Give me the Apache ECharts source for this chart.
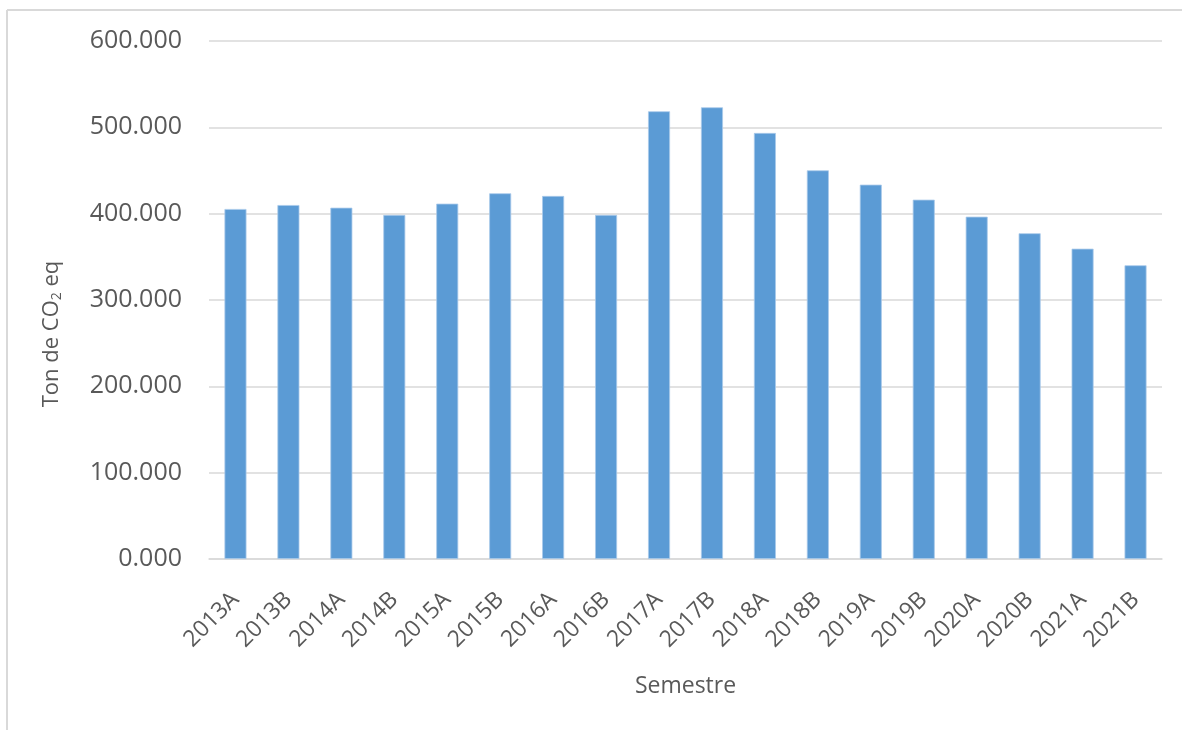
<!DOCTYPE html>
<html>
<head>
<meta charset="utf-8">
<script src="https://cdn.jsdelivr.net/npm/echarts@6/dist/echarts.min.js"></script>
<style>
  html, body { margin: 0; padding: 0; background: #ffffff; }
  #chart { width: 1182px; height: 730px; }
</style>
</head>
<body>
<div id="chart"></div>
<script>
// Semesters and emissions (Ton de CO2 eq)
const semesters = ['2013A','2013B','2014A','2014B','2015A','2015B','2016A','2016B','2017A',
                   '2017B','2018A','2018B','2019A','2019B','2020A','2020B','2021A','2021B'];
const emissions = [405.4, 410.0, 406.9, 398.5, 411.6, 423.6, 420.5, 398.5, 518.6,
                   523.2, 493.5, 450.2, 433.6, 416.2, 396.5, 377.3, 359.4, 340.2];
const yTicks = { min: 0, max: 600, step: 100 };

const textColor = '#595959';
const lineColor = '#d9d9d9';
const font = '"Open Sans", "Noto Sans", sans-serif';

const chart = echarts.init(document.getElementById('chart'), null, { renderer: 'canvas' });

chart.setOption({
  backgroundColor: '#ffffff',
  animation: false,
  grid: { left: 209, right: 20, top: 41, bottom: 171, containLabel: false },
  graphic: [
    // chart frame (top and left edges)
    { type: 'line', shape: { x1: 7, y1: 10, x2: 1182, y2: 10 }, style: { stroke: lineColor, lineWidth: 2 } },
    { type: 'line', shape: { x1: 7, y1: 10, x2: 7, y2: 730 }, style: { stroke: lineColor, lineWidth: 2 } },
    // y axis title with subscript
    {
      type: 'text',
      x: 52, y: 334,
      rotation: Math.PI / 2,
      style: {
        text: 'Ton de CO{sub|2} eq',
        fill: textColor,
        font: '22px ' + font,
        align: 'center',
        verticalAlign: 'middle',
        rich: {
          sub: { fontSize: 14, fontFamily: font, fill: textColor, verticalAlign: 'bottom', padding: [10, 0, 0, 0] }
        }
      }
    }
  ],
  xAxis: {
    type: 'category',
    data: semesters,
    name: 'Semestre',
    nameLocation: 'middle',
    nameGap: 116,
    nameTextStyle: { color: textColor, fontSize: 23, fontFamily: font },
    axisLine: { show: true, lineStyle: { color: lineColor, width: 1.5 } },
    axisTick: { show: false },
    axisLabel: {
      rotate: 45,
      interval: 0,
      margin: 37,
      color: textColor,
      fontSize: 23,
      fontFamily: font
    }
  },
  yAxis: {
    type: 'value',
    min: yTicks.min,
    max: yTicks.max,
    interval: yTicks.step,
    axisLine: { show: false },
    axisTick: { show: false },
    splitLine: { show: true, lineStyle: { color: lineColor, width: 1.5 } },
    axisLabel: {
      margin: 27,
      color: textColor,
      fontSize: 25,
      fontFamily: font,
      formatter: v => v.toFixed(3)
    }
  },
  series: [{
    type: 'bar',
    data: emissions,
    barWidth: 22,
    itemStyle: { color: '#5b9bd5', borderColor: '#a9c9ea', borderWidth: 0.8 }
  }]
});
</script>
</body>
</html>
